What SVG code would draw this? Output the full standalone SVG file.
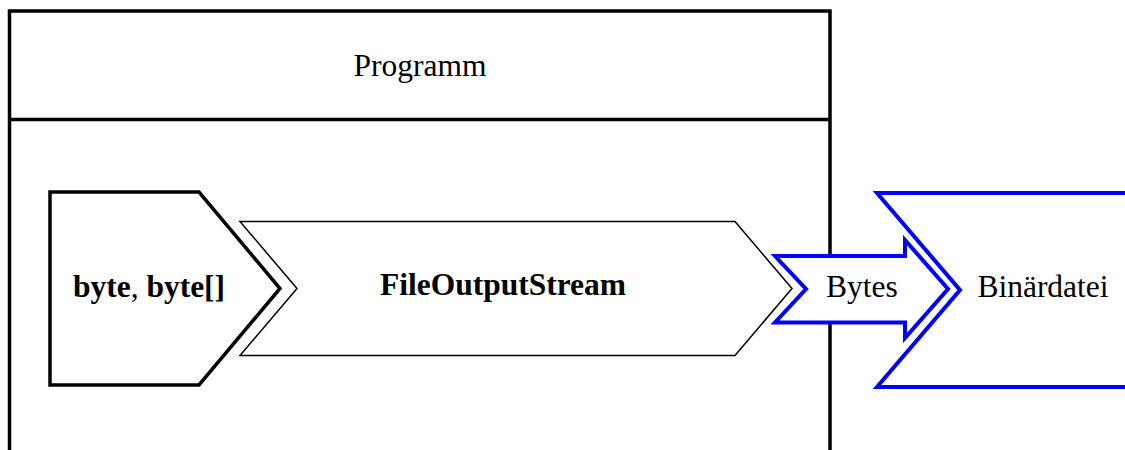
<svg xmlns="http://www.w3.org/2000/svg" width="1125" height="450" viewBox="0 0 1125 450">
<style>
text{font-family:"Liberation Serif","Times New Roman",serif;font-size:31.5px;fill:#000}
.b{font-weight:bold}
.blk{fill:#fff;stroke:#000;stroke-linejoin:miter}
.blue{fill:#fff;stroke:#0000ff;stroke-width:4;stroke-linejoin:miter}
</style>
<rect width="1125" height="450" fill="#fff"/>
<g id="programm">
<path d="M9.5,460 V11 H830 V460" fill="none" stroke="#000" stroke-width="3.5"/>
<line x1="9" y1="119.5" x2="830" y2="119.5" stroke="#000" stroke-width="3.5"/>
<text x="420" y="76" text-anchor="middle">Programm</text>
</g>
<g id="byte">
<polygon class="blk" stroke-width="3.5" points="50,192 199,192 280,288.5 199,385 50,385"/>
<text x="149" y="297" text-anchor="middle"><tspan class="b">byte</tspan>, <tspan class="b">byte[]</tspan></text>
</g>
<g id="fileoutputstream">
<polygon class="blk" stroke-width="1.5" points="240,221.5 735,221.5 792,288.5 735,355.5 240,355.5 297,288.5"/>
<text class="b" x="503" y="295" text-anchor="middle">FileOutputStream</text>
</g>
<g id="binaerdatei">
<polyline class="blue" points="1130,193 877,193 960,290 877,387 1130,387"/>
<text x="1043" y="297" text-anchor="middle">Binärdatei</text>
</g>
<g id="connectors">
<g id="bytes">
<polygon class="blue" points="775,256 905,256 905,240 948,289 905,338 905,322.5 775,322.5 806,289"/>
<text x="862" y="297" text-anchor="middle">Bytes</text>
</g>
</g>
</svg>
